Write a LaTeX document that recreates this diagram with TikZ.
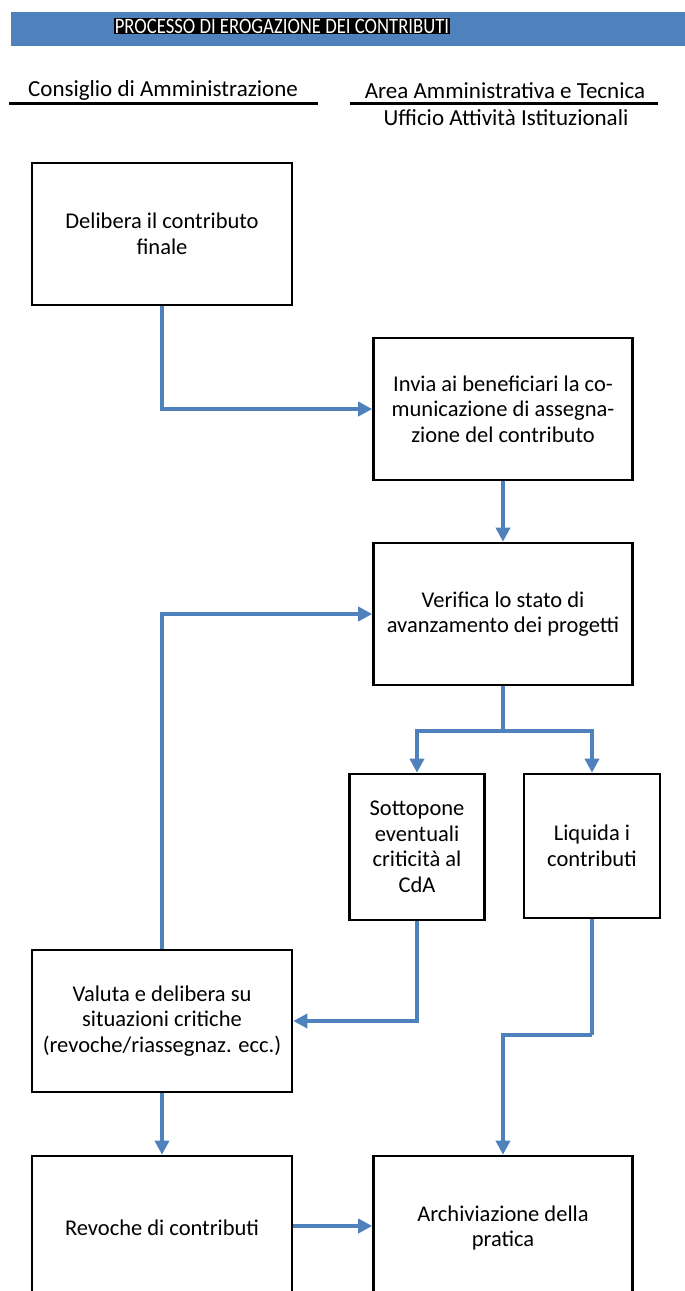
\documentclass[tikz,border=0pt]{standalone}
\usepackage{fontspec}
\setmainfont{Carlito}
\newfontfamily\titlefont[FakeStretch=0.85]{Carlito}
\usetikzlibrary{arrows.meta,calc}
\definecolor{flowblue}{RGB}{79,129,189}
\begin{document}
\begin{tikzpicture}[x=1pt,y=-1pt,
  box/.style={draw=black,line width=2.6pt,fill=white,align=center,inner sep=0pt,
     font=\fontsize{22.5}{25.5}\selectfont},
  arr/.style={draw=flowblue,line width=4pt,-{Triangle[length=14pt,width=14pt]}},
  link/.style={draw=flowblue,line width=4pt},
  header/.style={font=\fontsize{23}{25}\selectfont,inner sep=0pt},
  rule/.style={line width=3pt}]
\useasboundingbox (0,0) rectangle (685,1291);
\clip (0,0) rectangle (685,1291);
% title bar
\fill[flowblue] (11,12) rectangle (690,46);
\node[fill=black,text=white,inner xsep=1pt,inner ysep=1pt,font=\titlefont\fontsize{22}{22}\selectfont] (title) at (282,26) {PROCESSO DI EROGAZIONE DEI CONTRIBUTI};
% headers
\node[header] (h1) at (163,90) {Consiglio di Amministrazione};
\node[header] (h2) at (505,91) {Area Amministrativa e Tecnica};
\node[header] (h3) at (506,118) {Ufficio Attività Istituzionali};
\coordinate (l1a) at (9,103); \coordinate (l1b) at (318,103);
\coordinate (l2a) at (350,103); \coordinate (l2b) at (658,103);
\draw[rule] (l1a) -- (l1b);
\draw[rule] (l2a) -- (l2b);
% boxes
\node[box,minimum width=260,minimum height=142] (b1) at (162,234) {Delibera il contributo\\finale};
\node[box,minimum width=259,minimum height=142] (b2) at (503,409) {Invia ai beneficiari la co-\\municazione di assegna-\\zione del contributo};
\node[box,minimum width=259,minimum height=142] (b3) at (503,614) {Verifica lo stato di\\avanzamento dei progetti};
\node[box,minimum width=135,minimum height=146] (b4) at (417,847) {Sottopone\\eventuali\\criticità al\\CdA};
\node[box,minimum width=136,minimum height=144] (b5) at (592,846) {Liquida i\\contributi};
\node[box,minimum width=260,minimum height=142] (b6) at (162,1021) {Valuta e delibera su\\situazioni critiche\\(revoche/riassegnaz. ecc.)};
\node[box,minimum width=260,minimum height=144] (b7) at (162,1228) {Revoche di contributi};
\node[box,minimum width=259,minimum height=144] (b8) at (503,1228) {Archiviazione della\\pratica};
% connectors
\draw[arr] (b1.south) |- (b2.west);
\draw[arr] (b2.south) -- (b3.north);
\coordinate (split) at ($(b3.south)+(0,45)$);
\draw[link] (b3.south) -- (split);
\draw[arr] (split) -| (b4.north);
\draw[arr] (split) -| (b5.north);
\draw[arr] (b4.south) |- (b6.east);
\draw[arr] (b6.north) |- (b3.west);
\draw[arr] (b6.south) -- (b7.north);
\coordinate (jog) at ($(b5.south)+(0,116)$);
\draw[link] (b5.south) -- (jog);
\draw[arr] (jog) -| (b8.north);
\draw[arr] (b7.east |- 0,1226) -- (b8.west |- 0,1226);
\end{tikzpicture}
\end{document}
